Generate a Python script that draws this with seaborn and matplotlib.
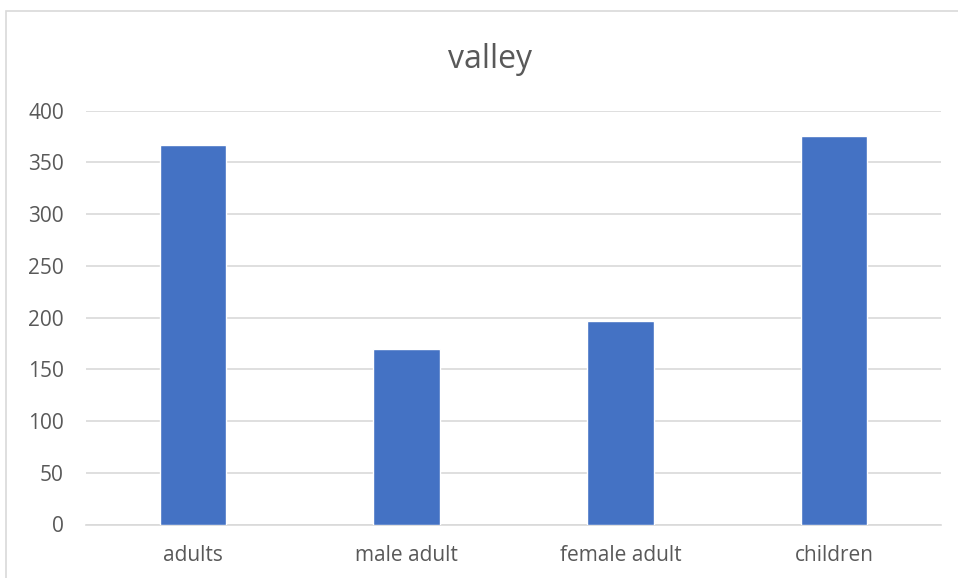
import matplotlib
matplotlib.use("Agg")
import matplotlib.pyplot as plt
import seaborn as sns
import pandas as pd
from matplotlib.patches import Rectangle

categories = ["adults", "male adult", "female adult", "children"]
values = [367, 170, 197, 375]
y_ticks = [0, 50, 100, 150, 200, 250, 300, 350, 400]

sns.set_theme(style="white")
plt.rcParams["font.family"] = ["Open Sans", "DejaVu Sans"]

W, H = 958, 578
fig = plt.figure(figsize=(W / 100, H / 100), dpi=100)

# chart frame
fig.patches.append(Rectangle((6 / W, -0.1), 2.0, 1 - 11 / H + 0.1,
                             transform=fig.transFigure, fill=False,
                             edgecolor="#d9d9d9", linewidth=1.2, zorder=0))

left, right = 86 / W, 941 / W
bottom, top = 1 - 524.5 / H, 1 - 110.5 / H
ax = fig.add_axes([left, bottom, right - left, top - bottom])

df = pd.DataFrame({"category": categories, "value": values})
sns.barplot(data=df, x="category", y="value", ax=ax, color="#4472C4",
            saturation=1, width=0.31, zorder=3)

ax.set_ylim(0, 400)
ax.set_xlim(-0.5, len(categories) - 0.5)
ax.set_yticks(y_ticks)
ax.yaxis.grid(True, color="#d9d9d9", linewidth=1.2, zorder=0)
ax.set_axisbelow(True)
for s in ["top", "right", "left"]:
    ax.spines[s].set_visible(False)
ax.spines["bottom"].set_color("#d9d9d9")
ax.spines["bottom"].set_linewidth(1.2)
ax.tick_params(axis="both", length=0, labelsize=15, colors="#595959")
ax.tick_params(axis="y", pad=16)
ax.tick_params(axis="x", pad=15)
ax.set_xlabel("")
ax.set_ylabel("")

fig.text(490 / W, 1 - 68 / H, "valley", ha="center", va="baseline",
         fontsize=23, color="#595959")

fig.savefig("out.png", dpi=100)
